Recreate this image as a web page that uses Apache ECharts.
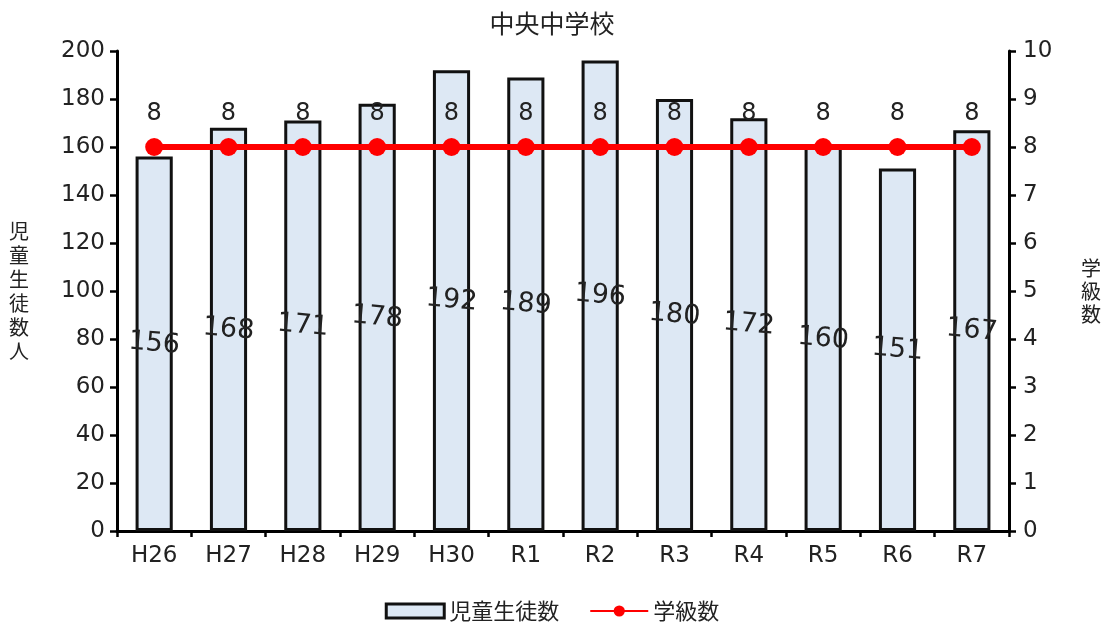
<!DOCTYPE html>
<html>
<head>
<meta charset="utf-8">
<script src="https://cdn.jsdelivr.net/npm/echarts@6/dist/echarts.min.js"></script>
<style>
  html, body { margin: 0; padding: 0; background: #fff; }
  #chart { width: 1104px; height: 631px; }
</style>
</head>
<body>
<div id="chart"></div>
<script>
var years = ["H26", "H27", "H28", "H29", "H30", "R1", "R2", "R3", "R4", "R5", "R6", "R7"];
var students = [156, 168, 171, 178, 192, 189, 196, 180, 172, 160, 151, 167];
var classes = [8, 8, 8, 8, 8, 8, 8, 8, 8, 8, 8, 8];

var font = "'DejaVu Sans', 'Noto Sans CJK JP', sans-serif";
var jpFont = "'Noto Sans CJK JP', sans-serif";
var chart = echarts.init(document.getElementById("chart"));
var option = {
  textStyle: { fontFamily: font, color: "#222" },
  title: {
    text: "中央中学校",
    left: "center",
    top: 6,
    textStyle: { fontFamily: jpFont, fontSize: 25, fontWeight: "normal", color: "#222" }
  },
  grid: { left: 117, right: 95, top: 51, bottom: 100 },
  legend: {
    bottom: 4,
    left: "center",
    itemGap: 30,
    textStyle: { fontFamily: jpFont, fontSize: 22, color: "#222" },
    data: [
      { name: "児童生徒数", icon: "rect", itemStyle: { color: "#dde8f4", borderColor: "#111", borderWidth: 3 } },
      { name: "学級数" }
    ],
    itemWidth: 58,
    itemHeight: 14
  },
  xAxis: {
    type: "category",
    data: years,
    axisLine: { lineStyle: { color: "#000", width: 3 } },
    axisTick: { show: true, length: 6, lineStyle: { color: "#000", width: 2.5 } },
    axisLabel: { fontSize: 23, color: "#222", margin: 14 }
  },
  yAxis: [
    {
      type: "value",
      min: 0, max: 200, interval: 20,
      name: "児\n童\n生\n徒\n数\n人",
      nameLocation: "middle",
      nameRotate: 0,
      nameGap: 88,
      nameTextStyle: { fontFamily: jpFont, fontSize: 20, color: "#222", lineHeight: 24 },
      axisLine: { show: true, lineStyle: { color: "#000", width: 3 } },
      axisTick: { show: true, length: 7, lineStyle: { color: "#000", width: 2.5 } },
      axisLabel: { fontSize: 23, color: "#222", margin: 12 },
      splitLine: { show: false }
    },
    {
      type: "value",
      min: 0, max: 10, interval: 1,
      name: "学\n級\n数",
      nameLocation: "middle",
      nameRotate: 0,
      nameGap: 72,
      nameTextStyle: { fontFamily: jpFont, fontSize: 20, color: "#222", lineHeight: 23 },
      axisLine: { show: true, lineStyle: { color: "#000", width: 3 } },
      axisTick: { show: true, length: 7, lineStyle: { color: "#000", width: 2.5 } },
      axisLabel: { fontSize: 23, color: "#222", margin: 14 },
      splitLine: { show: false }
    }
  ],
  series: [
    {
      name: "児童生徒数",
      type: "bar",
      data: students,
      barWidth: "50%",
      itemStyle: { color: "#dde8f4", borderColor: "#111", borderWidth: 3 },
      label: {
        show: true,
        position: "inside",
        rotate: -5,
        fontSize: 27,
        color: "#222"
      }
    },
    {
      name: "学級数",
      type: "line",
      yAxisIndex: 1,
      data: classes,
      symbol: "circle",
      symbolSize: 18,
      lineStyle: { color: "#ff0000", width: 6 },
      itemStyle: { color: "#ff0000" },
      label: {
        show: true,
        position: "top",
        distance: 12,
        fontSize: 24,
        color: "#222"
      }
    }
  ]
};
chart.setOption(option);
</script>
</body>
</html>
